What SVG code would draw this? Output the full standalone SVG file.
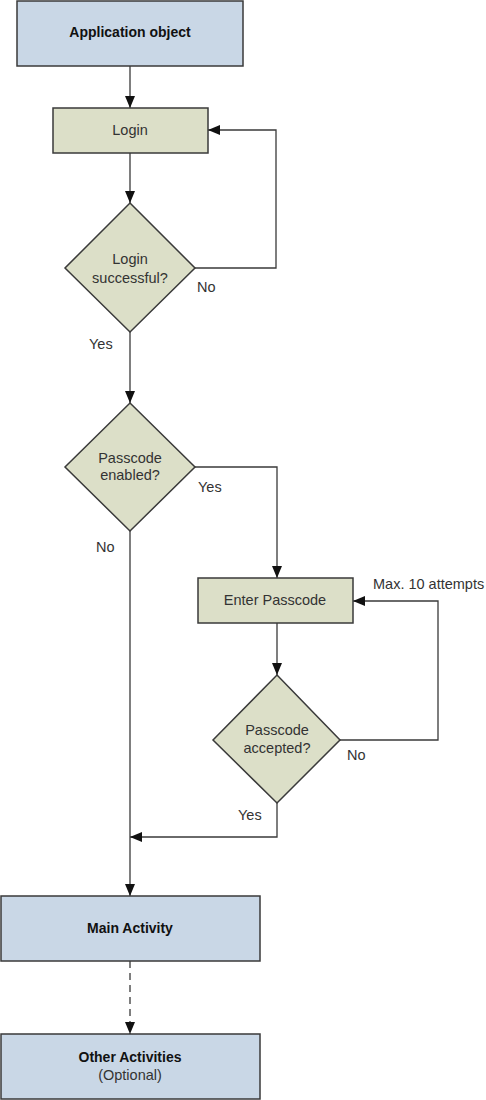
<svg xmlns="http://www.w3.org/2000/svg" width="486" height="1100" viewBox="0 0 486 1100">
<style>
.blue{fill:#c9d7e6;stroke:#3a3a3a;stroke-width:1.5}
.green{fill:#dcdfc8;stroke:#3a3a3a;stroke-width:1.5}
.t{font-family:"Liberation Sans",Arial,sans-serif;font-size:14.5px;fill:#333;text-anchor:middle}
.b{font-family:"Liberation Sans",Arial,sans-serif;font-size:14px;font-weight:bold;fill:#111;text-anchor:middle}
.l{font-family:"Liberation Sans",Arial,sans-serif;font-size:14.5px;fill:#333}
.c{fill:none;stroke:#3a3a3a;stroke-width:1.3}
</style>
<defs>
<marker id="ah" markerWidth="12" markerHeight="12" viewBox="0 0 12 12" refX="12" refY="6" orient="auto" markerUnits="userSpaceOnUse">
<path d="M0,1 L12,6 L0,11 Z" fill="#111"/>
</marker>
</defs>
<rect width="486" height="1100" fill="#fff"/>
<g id="connectors">
<path class="c" d="M130,66 V108" marker-end="url(#ah)"/>
<path class="c" d="M130,153 V203" marker-end="url(#ah)"/>
<path class="c" d="M195,268 H276 V130 H208" marker-end="url(#ah)"/>
<path class="c" d="M130,332 V403" marker-end="url(#ah)"/>
<path class="c" d="M195,467 H277 V578" marker-end="url(#ah)"/>
<path class="c" d="M277,623 V675" marker-end="url(#ah)"/>
<path class="c" d="M340,740 H438 V601 H353" marker-end="url(#ah)"/>
<path class="c" d="M277,803 V837 H130" marker-end="url(#ah)"/>
<path class="c" d="M130,531 V896" marker-end="url(#ah)"/>
<path class="c" d="M130,961 V1034" stroke-dasharray="7,5" marker-end="url(#ah)"/>
<text class="l" x="197" y="292">No</text>
<text class="l" x="89" y="349">Yes</text>
<text class="l" x="198" y="492">Yes</text>
<text class="l" x="96" y="552">No</text>
<text class="l" x="373" y="589">Max. 10 attempts</text>
<text class="l" x="347" y="760">No</text>
<text class="l" x="238" y="820">Yes</text>
</g>
<g id="app">
<rect class="blue" x="17" y="1" width="226" height="65"/>
<text class="b" x="130" y="37">Application object</text>
</g>
<g id="login">
<rect class="green" x="53" y="108" width="155" height="45"/>
<text class="t" x="130" y="135">Login</text>
</g>
<g id="loginok">
<polygon class="green" points="130,203 195,268 130,332 65,268"/>
<text class="t" x="130" y="264">Login</text>
<text class="t" x="130" y="283">successful?</text>
</g>
<g id="pcenabled">
<polygon class="green" points="130,403 195,467 130,531 65,467"/>
<text class="t" x="130" y="463">Passcode</text>
<text class="t" x="130" y="480">enabled?</text>
</g>
<g id="enterpc">
<rect class="green" x="198" y="578" width="155" height="45"/>
<text class="t" x="275" y="605">Enter Passcode</text>
</g>
<g id="pcaccepted">
<polygon class="green" points="277,675 340,740 277,803 213,740"/>
<text class="t" x="277" y="735">Passcode</text>
<text class="t" x="277" y="753">accepted?</text>
</g>
<g id="main">
<rect class="blue" x="1" y="896" width="259" height="65"/>
<text class="b" x="130" y="933">Main Activity</text>
</g>
<g id="other">
<rect class="blue" x="1" y="1034" width="259" height="65"/>
<text class="b" x="130" y="1062">Other Activities</text>
<text class="t" x="130" y="1080">(Optional)</text>
</g>
</svg>
